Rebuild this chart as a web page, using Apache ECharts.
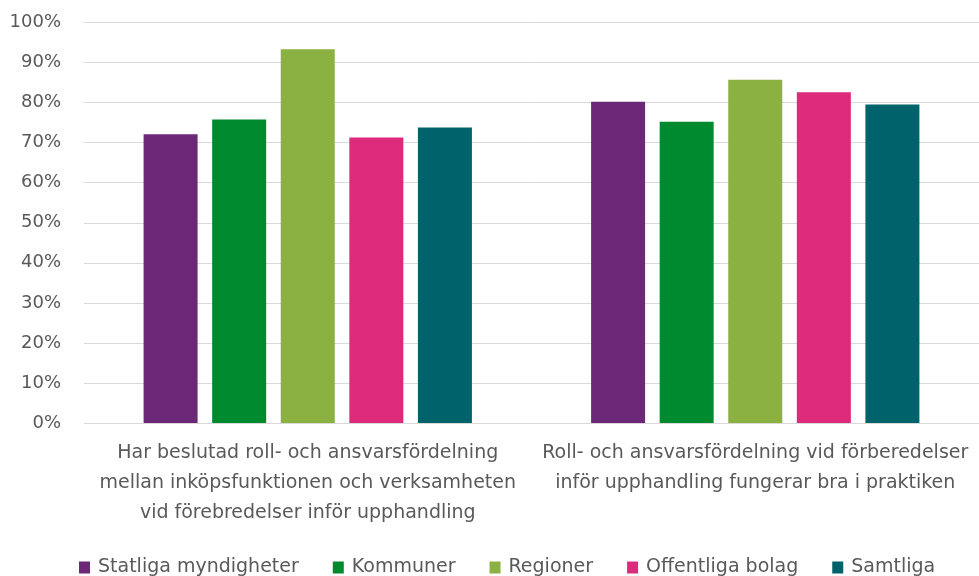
<!DOCTYPE html>
<html><head><meta charset="utf-8">
<script src="https://cdn.jsdelivr.net/npm/echarts@6/dist/echarts.min.js"></script>
<style>html,body{margin:0;padding:0;background:#fff}#c{width:979px;height:576px}</style>
</head><body><div id="c"></div>
<script>
const categories = [
  "Har beslutad roll- och ansvarsfördelning\nmellan inköpsfunktionen och verksamheten\nvid förebredelser inför upphandling",
  "Roll- och ansvarsfördelning vid förberedelser\ninför upphandling fungerar bra i praktiken"
];
const seriesNames = ["Statliga myndigheter", "Kommuner", "Regioner", "Offentliga bolag", "Samtliga"];
const statliga = [0.721, 0.802];
const kommuner = [0.758, 0.752];
const regioner = [0.933, 0.857];
const offentliga = [0.713, 0.826];
const samtliga = [0.738, 0.795];
const yTicks = [0, 0.1, 0.2, 0.3, 0.4, 0.5, 0.6, 0.7, 0.8, 0.9, 1.0];
const colors = ["#6B2876", "#008A2F", "#8BB143", "#DE2A7A", "#00626A"];
const allValues = [statliga, kommuner, regioner, offentliga, samtliga];

const FONT = "'DejaVu Sans', sans-serif";
const chart = echarts.init(document.getElementById('c'));
chart.setOption({
  animation: false,
  color: colors,
  grid: { left: 84, right: 0, top: 22.5, bottom: 153, containLabel: false },
  legend: {
    left: 74, top: 553,
    itemWidth: 11, itemHeight: 12, itemGap: 34,
    icon: 'rect',
    textStyle: { fontFamily: FONT, fontSize: 19, color: '#595959', padding: [0, 0, 0, 3] },
    data: seriesNames
  },
  xAxis: {
    type: 'category',
    data: categories,
    axisLine: { show: true, lineStyle: { color: '#d9d9d9', width: 1 } },
    axisTick: { show: false },
    axisLabel: { interval: 0, margin: 15, fontFamily: FONT, fontSize: 19, color: '#595959', lineHeight: 30, align: 'center' }
  },
  yAxis: {
    type: 'value', min: 0, max: 1, interval: 0.1,
    axisLine: { show: false }, axisTick: { show: false },
    splitLine: { lineStyle: { color: '#d9d9d9', width: 1 } },
    axisLabel: { margin: 23, fontFamily: FONT, fontSize: 18, color: '#595959',
      formatter: v => Math.round(v * 100) + '%' }
  },
  series: seriesNames.map((n, i) => ({
    name: n, type: 'bar', data: allValues[i],
    barWidth: 54, barGap: '27%',
    itemStyle: { color: colors[i] }
  }))
});
</script></body></html>
